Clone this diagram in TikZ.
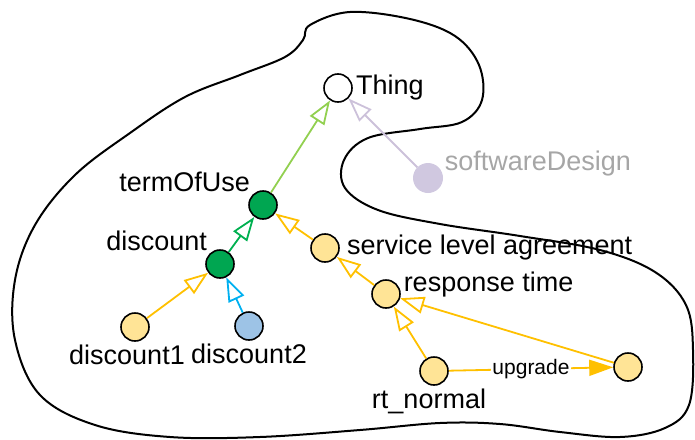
\documentclass[tikz,border=0pt]{standalone}
\usepackage{fontspec}
\setmainfont{Liberation Sans}
\usetikzlibrary{arrows.meta}
\definecolor{yfill}{RGB}{255,228,150}
\definecolor{gfill}{RGB}{0,166,81}
\definecolor{bfill}{RGB}{157,195,230}
\definecolor{lfill}{RGB}{208,200,224}
\definecolor{yline}{RGB}{255,192,0}
\definecolor{gline}{RGB}{146,208,80}
\definecolor{dline}{RGB}{0,176,80}
\definecolor{bline}{RGB}{0,176,240}
\definecolor{lline}{RGB}{204,193,218}
\definecolor{sdgray}{RGB}{166,166,166}
\begin{document}
\begin{tikzpicture}[x=1pt,y=-1pt,
    font=\fontsize{27}{32}\selectfont,
    every label/.style={inner sep=1pt},
    label distance=2pt,
    cls/.style={circle,draw,line width=1.6pt,minimum size=28pt,inner sep=0pt},
    isa/.style={line width=1.8pt,-{Triangle[open,length=24pt,width=17pt]}},
    rel/.style={line width=1.8pt,-{Triangle[length=24pt,width=16pt]}}]
    \useasboundingbox (0,0) rectangle (695,439);
    \draw [line width=2pt] plot [smooth cycle, tension=0.6] coordinates {
        (310,25) (350,12) (410,19) (455,36) (479,65) (482,100) (462,122)
        (420,129) (368,138) (344,160) (345,188) (378,210) (440,224)
        (520,236) (600,250) (655,272) (686,305) (693,350) (689,405)
        (665,428) (620,437) (560,432) (500,424) (440,423) (360,430)
        (260,437) (170,437) (95,425) (40,395) (15,340) (15,280) (35,225)
        (75,175) (130,133) (185,97) (240,75) (285,57) (303,40)};
    \node [cls, fill=white, label=right:Thing] (thing) at (338,88) {};
    \node [circle, fill=lfill, minimum size=30pt, inner sep=0pt,
        label={[anchor=base west, text=sdgray]25:softwareDesign}] (sd) at (428,178) {};
    \node [cls, fill=gfill, label=135:termOfUse] (tou) at (263,205) {};
    \node [cls, fill=gfill, label=135:discount] (disc) at (220,264) {};
    \node [cls, fill=yfill, label={[xshift=4pt]right:service level agreement}] (sla) at (325,248) {};
    \node [cls, fill=yfill, label={[anchor=base west]10:response time}] (rt) at (386,294) {};
    \node [cls, fill=yfill, label={[xshift=-8pt]below:discount1}] (d1) at (135,327) {};
    \node [cls, fill=bfill, label=below:discount2] (d2) at (249,326) {};
    \node [cls, fill=yfill, label={[xshift=-5pt]below:rt\_normal}] (rtn) at (434,371) {};
    \node [cls, fill=yfill] (rtx) at (628,367) {};
    \draw [isa, gline] (tou) -- (thing);
    \draw [isa, lline] (sd) -- (thing);
    \draw [isa, dline] (disc) -- (tou);
    \draw [isa, yline] (sla) -- (tou);
    \draw [isa, yline] (d1) -- (disc);
    \draw [isa, bline] (d2) -- (disc);
    \draw [isa, yline] (rt) -- (sla);
    \draw [isa, yline] (rtn) -- (rt);
    \draw [isa, yline] (rtx) -- (rt);
    \draw [rel, yline] (rtn) -- node [fill=white, inner sep=1pt, text=black,
        font=\fontsize{21}{24}\selectfont] {upgrade} (rtx);
\end{tikzpicture}
\end{document}
